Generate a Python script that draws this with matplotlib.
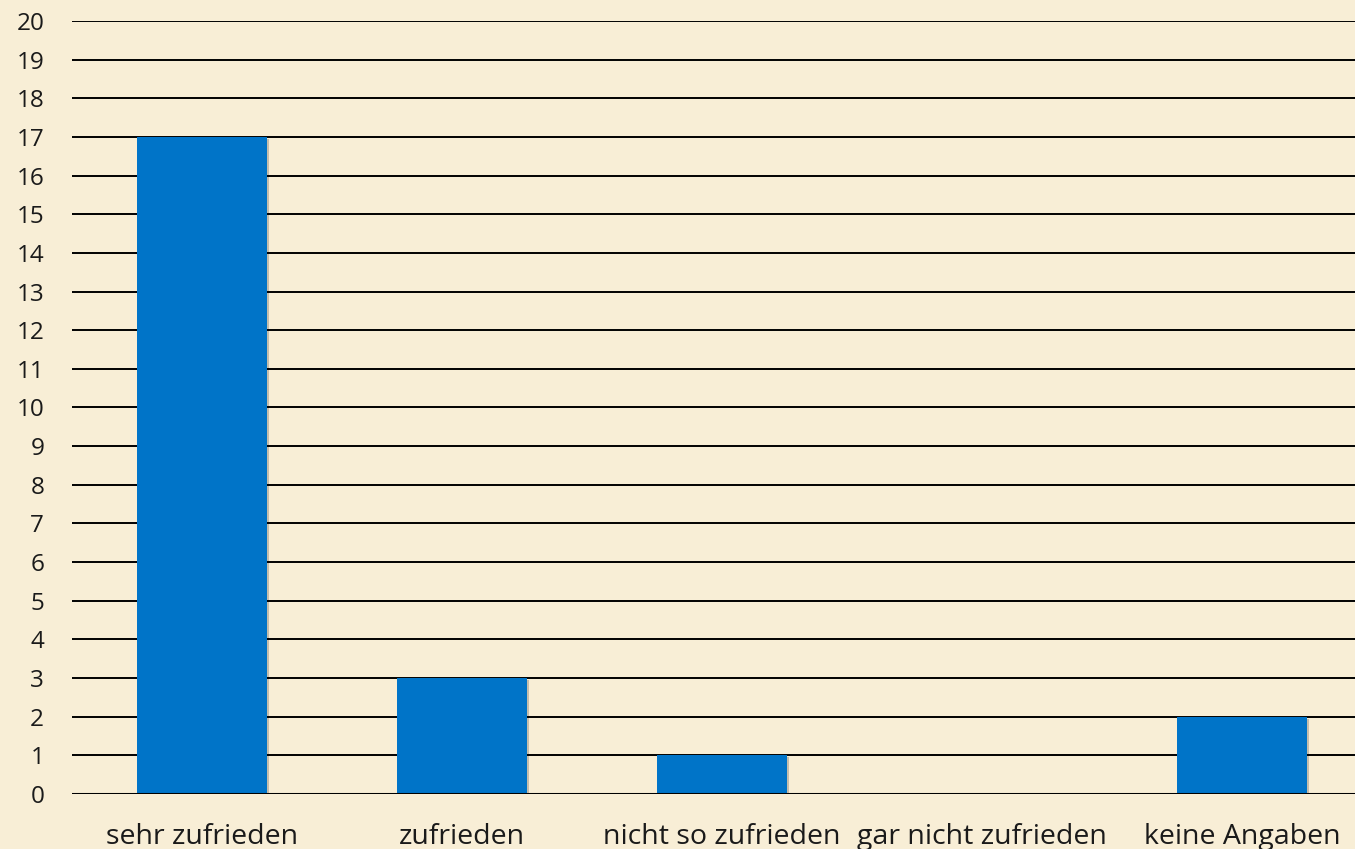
import matplotlib
matplotlib.use("Agg")
import matplotlib.pyplot as plt
import matplotlib.patheffects as pe
import numpy as np

categories = ["sehr zufrieden", "zufrieden", "nicht so zufrieden", "gar nicht zufrieden", "keine Angaben"]
values = [17, 3, 1, 0, 2]
yticks = list(range(0, 21))

bg = "#f8eed6"
bar_color = "#0074c8"

plt.rcParams["font.family"] = ["Open Sans", "DejaVu Sans"]

fig = plt.figure(figsize=(13.55, 8.49), dpi=100, facecolor=bg)
# axes runs a little past the right edge, like in the original
ax = fig.add_axes([72 / 1355, 0.0648, 1300 / 1355, 0.9105])
ax.set_facecolor(bg)

x = np.arange(len(categories))
bars = ax.bar(x, values, width=0.5, color=bar_color, zorder=3)
for b in bars:
    b.set_path_effects([pe.SimplePatchShadow(offset=(1.5, -1.5), shadow_rgbFace="#000000", alpha=0.2), pe.Normal()])

ax.set_xlim(-0.5, len(categories) - 0.5)
ax.set_ylim(0, 20)
ax.set_yticks(yticks)
ax.set_yticklabels([str(t) for t in yticks], fontsize=17.5, color="#1a1a1a")
ax.set_xticks(x)
ax.set_xticklabels(categories, fontsize=20.5, color="#1a1a1a")
ax.tick_params(axis="both", length=0)
ax.tick_params(axis="y", pad=20)
ax.tick_params(axis="x", pad=21)

for t in yticks[1:]:
    ax.axhline(t, color="black", lw=1.4, zorder=1)
ax.axhline(0, color="black", lw=2.2, zorder=4)

for s in ax.spines.values():
    s.set_visible(False)

fig.savefig("out.png", dpi=100, facecolor=bg)
